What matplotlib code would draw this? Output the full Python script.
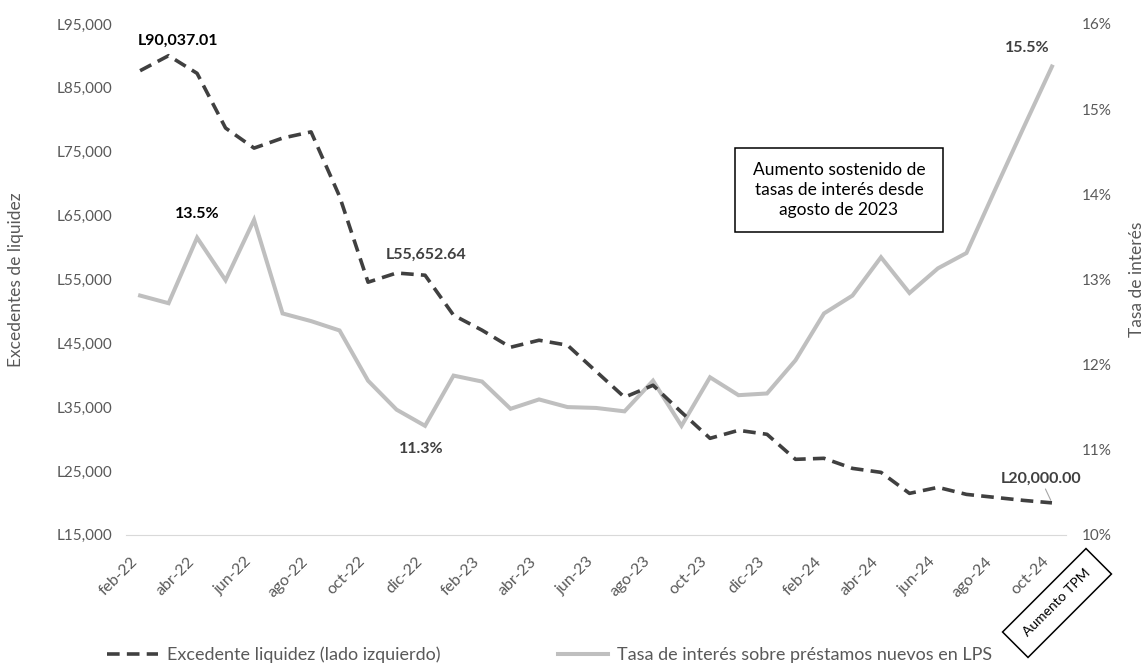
import matplotlib.pyplot as plt
from matplotlib.lines import Line2D
from matplotlib.patches import Rectangle
from matplotlib.ticker import FuncFormatter

plt.rcParams["font.family"] = ["Lato", "DejaVu Sans"]

months = ["feb-22", "mar-22", "abr-22", "may-22", "jun-22", "jul-22", "ago-22",
          "sep-22", "oct-22", "nov-22", "dic-22", "ene-23", "feb-23", "mar-23",
          "abr-23", "may-23", "jun-23", "jul-23", "ago-23", "sep-23", "oct-23",
          "nov-23", "dic-23", "ene-24", "feb-24", "mar-24", "abr-24", "may-24",
          "jun-24", "jul-24", "ago-24", "sep-24", "oct-24"]

# excedente de liquidez (millones de lempiras)
excedente = [87680, 90037.01, 87270, 78700, 75560, 77130, 78100,
             68000, 54560, 56000, 55652.64, 49390, 47040, 44370,
             45470, 44690, 40600, 36540, 38420, 34190, 30110,
             31360, 30740, 26820, 26980, 25400, 24780, 21490,
             22430, 21330, 20860, 20390, 20000.00]

# tasa de interes sobre prestamos nuevos en LPS (%)
tasa = [12.81, 12.72, 13.49, 12.99, 13.70, 12.60, 12.51,
        12.40, 11.81, 11.47, 11.28, 11.87, 11.80, 11.48,
        11.59, 11.50, 11.49, 11.45, 11.81, 11.28, 11.85,
        11.64, 11.66, 12.05, 12.60, 12.81, 13.26, 12.84,
        13.13, 13.31, 14.05, 14.78, 15.50]

dark = "#404040"
light = "#bfbfbf"
txt = "#595959"

fig = plt.figure(figsize=(11.44, 6.66), dpi=100)
ax = fig.add_axes([0.110, 0.197, 0.822, 0.767])
ax2 = ax.twinx()

x = list(range(len(months)))
ax2.plot(x, tasa, color=light, lw=2.9, solid_joinstyle="miter")
ax.plot(x, excedente, color=dark, lw=2.6, linestyle=(0, (3.5, 2.0)))

ax.set_zorder(ax2.get_zorder() + 1)
ax.patch.set_visible(False)

ax.set_xlim(-0.5, len(months) - 0.5)
ax.set_ylim(15000, 95000)
ax.set_yticks(range(15000, 95001, 10000))
ax.yaxis.set_major_formatter(FuncFormatter(lambda v, p: f"L{v:,.0f}"))
ax2.set_ylim(10, 16)
ax2.set_yticks(range(10, 17))
ax2.yaxis.set_major_formatter(FuncFormatter(lambda v, p: f"{v:.0f}%"))

ax.set_xticks(x[::2])
ax.set_xticklabels(months[::2], rotation=45, ha="right")

for a in (ax, ax2):
    for s in a.spines.values():
        s.set_visible(False)
    a.tick_params(length=0, labelsize=11, labelcolor=txt)
ax.spines["bottom"].set_visible(True)
ax.spines["bottom"].set_color("#d9d9d9")
ax.tick_params(axis="x", pad=14, labelsize=11.5)
ax.tick_params(axis="y", pad=10)
ax2.tick_params(axis="y", pad=11)

ax.set_ylabel("Excedentes de liquidez", fontsize=12.5, color=txt, labelpad=23)
ax2.set_ylabel("Tasa de interés", fontsize=12.5, color=txt, labelpad=13)

# etiquetas de datos
lab = dict(textcoords="offset points", ha="center", fontsize=11.5,
           fontweight="bold")
ax.annotate(f"L{excedente[1]:,.2f}", (1, excedente[1]), xytext=(7, 6),
            va="bottom", color="black", **lab)
ax.annotate(f"L{excedente[10]:,.2f}", (10, excedente[10]), xytext=(1, 10),
            va="bottom", color=dark, **lab)
ax.annotate(f"L{excedente[-1]:,.2f}", (32, excedente[-1]), xytext=(-8, 12),
            va="bottom", color=dark,
            arrowprops=dict(arrowstyle="-", color="#a6a6a6", lw=0.8,
                            shrinkA=0, shrinkB=2), **lab)
ax2.annotate(f"{tasa[2]:.1f}%", (2, tasa[2]), xytext=(0, 12),
             va="bottom", color="black", **lab)
ax2.annotate(f"{tasa[10]:.1f}%", (10, tasa[10]), xytext=(-3, -12),
             va="top", color=dark, **lab)
ax2.annotate(f"{tasa[-1]:.1f}%", (32, tasa[-1]), xytext=(-18, 8),
             va="bottom", color=dark, **lab)

# cuadro de texto
fig.patches.append(Rectangle((7.35, 4.34), 2.08, 0.84, transform=fig.dpi_scale_trans,
                             fc="white", ec="black", lw=1.1))
fig.text(8.39, 4.76, "Aumento sostenido de\ntasas de interés desde\nagosto de 2023",
         transform=fig.dpi_scale_trans, ha="center", va="center", fontsize=12.5,
         color="black", linespacing=1.3)

# etiqueta girada "Aumento TPM"
fig.patches.append(Rectangle((10.57 - 0.59, 0.63 - 0.18), 1.18, 0.36, angle=45,
                             rotation_point="center", transform=fig.dpi_scale_trans,
                             fc="white", ec="black", lw=1.1))
fig.text(10.57, 0.63, "Aumento TPM", rotation=45, transform=fig.dpi_scale_trans,
         ha="center", va="center", rotation_mode="anchor", fontsize=10,
         color="black")

handles = [Line2D([], [], color=dark, lw=2.6, linestyle=(0, (3.5, 2.0))),
           Line2D([], [], color=light, lw=2.9)]
fig.legend(handles, ["Excedente liquidez (lado izquierdo)",
                     "Tasa de interés sobre préstamos nuevos en LPS"],
           loc="center", bbox_to_anchor=(550 / 1144, 1 - 655 / 666), ncol=2,
           frameon=False, fontsize=13, labelcolor=txt, handlelength=2.8,
           handletextpad=0.5, columnspacing=6.5)

fig.savefig("out.png", dpi=100)
